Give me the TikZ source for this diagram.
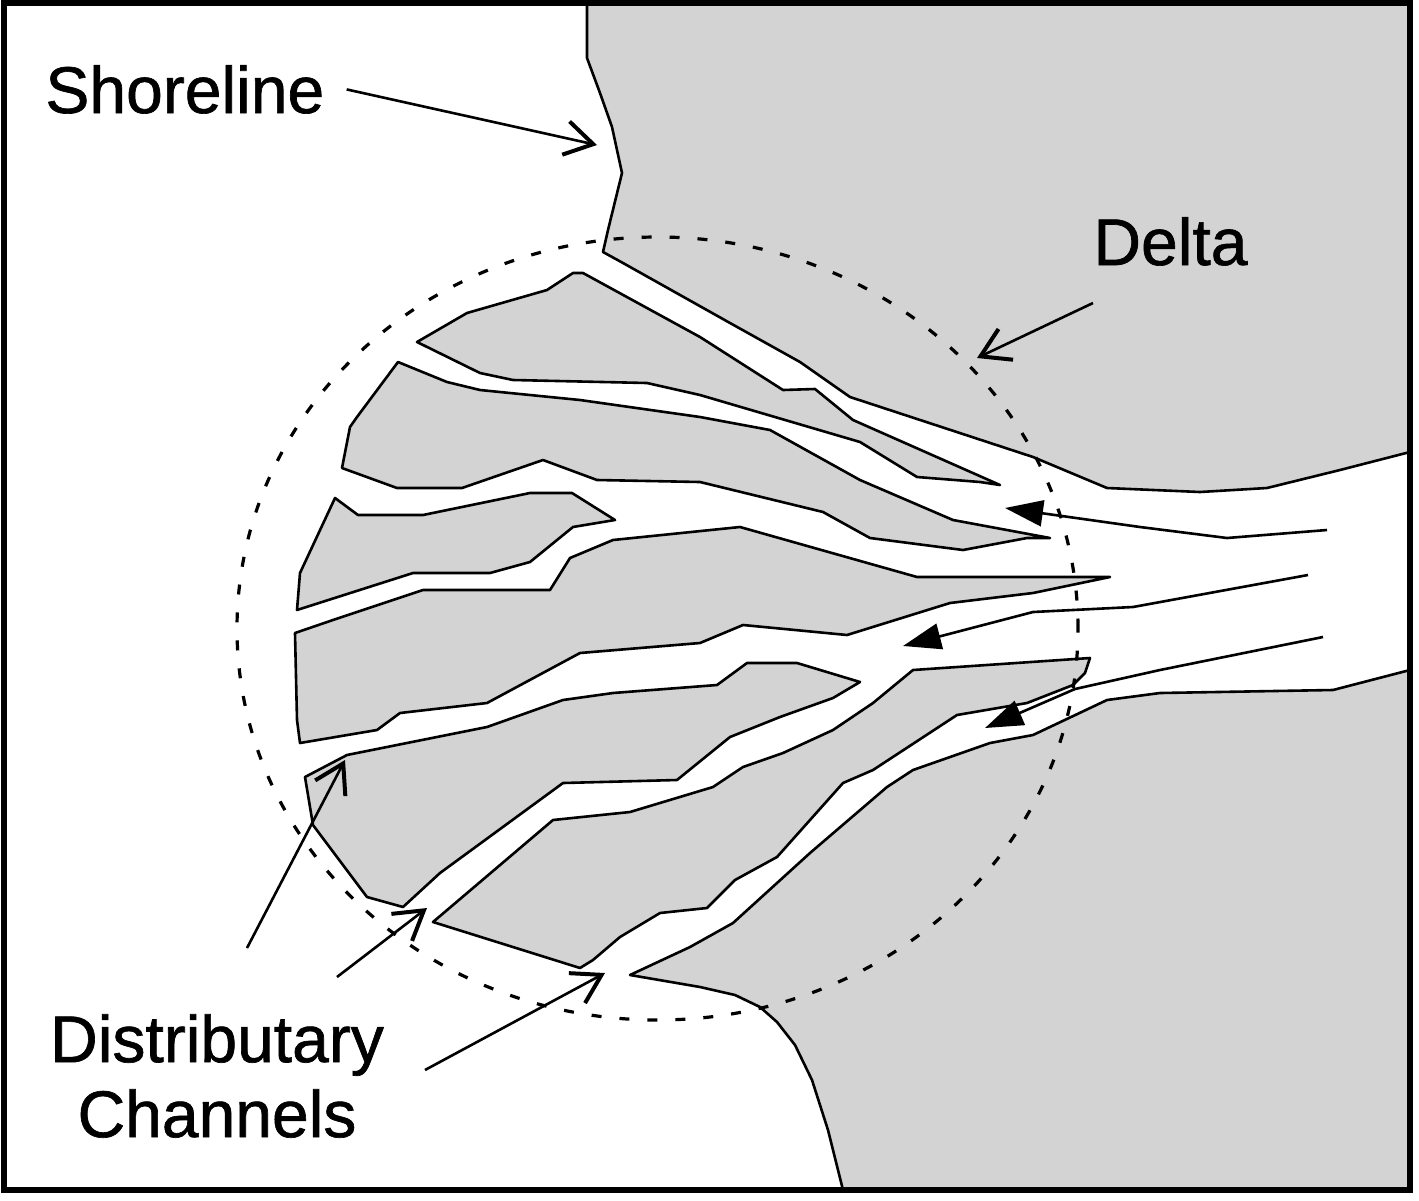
\documentclass[tikz,border=0pt]{standalone}
\usepackage{fontspec}
\newfontfamily\labelfont[FakeBold=1]{Liberation Sans}
\usepackage{tikz}
\usetikzlibrary{arrows.meta}
\definecolor{landgray}{RGB}{211,211,211}
\tikzstyle{landmass}=[fill=landgray, draw=black, line width=1.3pt, line join=round]
\tikzstyle{deltarim}=[draw=black, line width=1.6pt, dash pattern=on 5pt off 9pt]
\tikzstyle{stream}=[line width=1.3pt, -{Triangle[length=19pt, width=13pt]}]
\tikzstyle{pointer}=[line width=1.3pt, -{Straight Barb[length=14pt, width=17pt, line width=2pt]}]
\tikzstyle{caption}=[font=\labelfont\fontsize{33}{37.5}\selectfont, inner sep=11pt]
\tikzstyle{frameline}=[draw=black, line width=3pt]

\begin{document}
\begin{tikzpicture}[x=0.5pt, y=-0.5pt]
                \useasboundingbox (0,0) rectangle (1419,1200);

                % Terres
                \draw[landmass] (587,3) -- (587,58) -- (600,93) -- (612,127) -- (622,173) -- (608,230) -- (603,252)
                    -- (623,263) -- (730,323) -- (800,362) -- (850,397) -- (1033,457) -- (1107,488) -- (1200,492)
                    -- (1267,488) -- (1340,470) -- (1410,452) -- (1410,3) -- cycle;
                \draw[landmass] (1410,670) -- (1333,690) -- (1160,693) -- (1107,700) -- (1033,735) -- (990,743)
                    -- (913,770) -- (887,787) -- (810,853) -- (733,923) -- (690,947) -- (630,975) -- (700,987)
                    -- (735,995) -- (760,1007) -- (777,1022) -- (795,1045) -- (812,1080) -- (828,1130) -- (843,1190)
                    -- (1410,1190) -- cycle;

                % Iles du delta
                \draw[landmass] (417,342) -- (467,313) -- (547,290) -- (573,273) -- (583,273) -- (700,337) -- (783,390)
                    -- (815,389) -- (853,420) -- (1000,485) -- (980,482) -- (917,477) -- (860,442) -- (700,395)
                    -- (647,383) -- (513,380) -- (480,373) -- cycle;
                \draw[landmass] (398,362) -- (447,382) -- (480,390) -- (580,400) -- (700,417) -- (770,430) -- (860,480)
                    -- (953,520) -- (1050,538) -- (1027,538) -- (963,550) -- (870,538) -- (823,512) -- (700,482)
                    -- (597,480) -- (543,460) -- (462,488) -- (397,488) -- (342,468) -- (350,427) -- (357,417) -- cycle;
                \draw[landmass] (335,498) -- (358,515) -- (423,515) -- (530,493) -- (572,493) -- (615,520) -- (573,527)
                    -- (530,562) -- (490,573) -- (413,573) -- (297,610) -- (300,573) -- cycle;
                \draw[landmass] (295,633) -- (333,620) -- (423,590) -- (550,590) -- (570,558) -- (613,540) -- (740,527)
                    -- (917,577) -- (1110,577) -- (1033,593) -- (950,603) -- (847,635) -- (743,625) -- (700,643)
                    -- (580,653) -- (487,703) -- (400,713) -- (377,730) -- (300,743) -- (297,720) -- cycle;
                \draw[landmass] (305,777) -- (347,755) -- (487,727) -- (563,700) -- (613,693) -- (717,685) -- (747,663)
                    -- (797,663) -- (860,682) -- (833,698) -- (780,717) -- (730,737) -- (677,780) -- (563,783)
                    -- (440,873) -- (403,907) -- (367,897) -- (313,825) -- cycle;
                \draw[landmass] (433,922) -- (553,820) -- (630,812) -- (713,787) -- (743,767) -- (783,753) -- (833,730)
                    -- (873,703) -- (913,670) -- (1090,658) -- (1085,673) -- (1073,685) -- (1027,703) -- (957,715)
                    -- (873,770) -- (843,783) -- (777,857) -- (735,880) -- (707,908) -- (660,913) -- (620,937)
                    -- (593,960) -- (580,968) -- cycle;

                % Limite du delta
                \draw[deltarim] (657.5,628.5) ellipse [x radius=210.25pt, y radius=195.75pt];

                % Courants
                \draw[stream] (1327,530) -- (1227,538) -- (1140,527) -- (1005,508);
                \draw[stream] (1308,575) -- (1133,607) -- (1033,612) -- (903,646);
                \draw[stream] (1323,637) -- (1160,670) -- (1075,689) -- (985,728);

                % Etiquettes
                \node[caption, anchor=base west] (shoreline) at (23,113) {Shoreline};
                \node[caption, anchor=base west] (delta) at (1071,265) {Delta};
                \node[caption, align=center] (channels) at (217,1076) {Distributary\\Channels};
                \coordinate (shoretip) at (597,145);
                \coordinate (deltafrom) at (1093,303);
                \coordinate (deltatip) at (977,358);
                \coordinate (mouthA) at (247,948);
                \coordinate (mouthB) at (337,977);
                \coordinate (mouthC) at (425,1070);
                \coordinate (mouthAtip) at (345,760);
                \coordinate (mouthBtip) at (427,908);
                \coordinate (mouthCtip) at (605,973);
                \draw[pointer] (shoreline.east) -- (shoretip);
                \draw[pointer] (deltafrom) -- (deltatip);
                \draw[pointer] (mouthA) -- (mouthAtip);
                \draw[pointer] (mouthB) -- (mouthBtip);
                \draw[pointer] (mouthC) -- (mouthCtip);

                % Cadre
                \draw[frameline] (4,3) rectangle (1410,1190);
            \end{tikzpicture}
\end{document}
